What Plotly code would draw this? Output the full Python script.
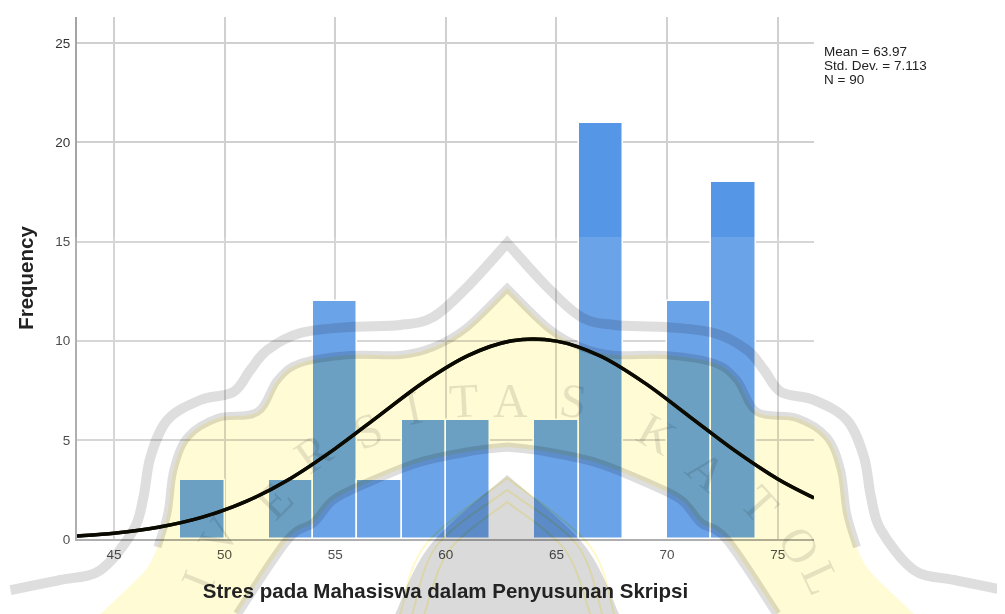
import plotly.graph_objects as go

# ---- chart data ----
bin_centers = [49, 51, 53, 55, 57, 59, 61, 63, 65, 67, 69, 71, 73]
frequency = [3, 0, 3, 12, 3, 6, 6, 0, 6, 21, 0, 12, 18]
curve_x = [43.33, 45, 47, 49, 51, 53, 55, 57, 59, 61, 63, 65, 67, 69, 71, 73, 75, 76.64]
curve_y = [0.15, 0.29, 0.59, 1.10, 1.91, 3.07, 4.56, 6.24, 7.91, 9.25, 10.0, 9.98, 9.22, 7.86, 6.19, 4.51, 3.03, 2.07]
x_ticks = [45, 50, 55, 60, 65, 70, 75]
y_ticks = [0, 5, 10, 15, 20, 25]
stats_lines = ["Mean = 63.97", "Std. Dev. = 7.113", "N = 90"]
x_title = "Stres pada Mahasiswa dalam Penyusunan Skripsi"
y_title = "Frequency"

# ---- plot frame in page pixels (the page body has an 8px margin) ----
W, H = 1005, 614
PAGE = 8
L, R, T, B = 76.5, 814, 17, 539

def px(x):
    return (x - L) / (R - L)

def py(y):
    return (B - y) / (B - T)

def smooth(pts):
    """Catmull-Rom segments through pts, as SVG cubic commands."""
    out = []
    for i in range(len(pts) - 1):
        p0 = pts[max(i - 1, 0)]
        p1, p2 = pts[i], pts[i + 1]
        p3 = pts[min(i + 2, len(pts) - 1)]
        c1 = (p1[0] + (p2[0] - p0[0]) / 6, p1[1] + (p2[1] - p0[1]) / 6)
        c2 = (p2[0] - (p3[0] - p1[0]) / 6, p2[1] - (p3[1] - p1[1]) / 6)
        out.append("C " + " ".join(f"{a:.4f},{b:.4f}" for a, b in (c1, c2, p2)))
    return " ".join(out)

def to_paper(pts):
    return [(px(a), py(b)) for a, b in pts]

def path(*segments, close=False):
    segs = [to_paper(s) for s in segments]
    s = f"M {segs[0][0][0]:.4f},{segs[0][0][1]:.4f} "
    for i, seg in enumerate(segs):
        if i:
            s += f" L {seg[0][0]:.4f},{seg[0][1]:.4f} "
        s += smooth(seg)
    return s + (" Z" if close else "")

def mirror(points, axis=507):
    return [(2 * axis - a, b) for a, b in reversed(points)]

# ---- background watermark (left half outlines, mirrored) ----
outer_band = [(10, 590), (60, 580), (100, 570), (133, 530), (143, 497), (150, 457), (167, 420), (200, 400),
              (233, 392), (250, 370), (267, 350), (300, 333), (350, 327), (400, 325), (433, 317), (467, 287), (507, 243)]
inner_band = [(157, 547), (167, 513), (173, 470), (187, 437), (217, 418), (257, 412), (277, 380), (300, 363),
              (350, 355), (400, 355), (433, 347), (467, 327), (507, 288)]
inner_arc = [(237, 614), (287, 540), (313, 523), (333, 500), (367, 483), (417, 463), (467, 452), (507, 447)]
lower_left = [(100, 614), (120, 595), (145, 570)]
blob = [(395, 614), (430, 545), (507, 475)]
chevrons = [[(400, 614), (425, 545), (507, 478)], [(412, 614), (437, 545), (507, 490)], [(424, 614), (449, 550), (507, 502)]]
letters = [("I", 197, 580, -68), ("V", 218, 535, -58), ("E", 273, 500, -45), ("R", 313, 453, -35), ("S", 367, 430, -22),
           ("I", 413, 407, -12), ("T", 463, 400, -3), ("A", 510, 400, 0), ("S", 573, 400, 8), ("K", 657, 433, 30),
           ("A", 707, 470, 40), ("T", 760, 503, 48), ("O", 800, 545, 60), ("L", 822, 578, 65)]

yellow_edge = lower_left + inner_band
base = dict(xref="paper", yref="paper", layer="above")
stroke = lambda w, c: dict(line=dict(width=w, color=c), fillcolor="rgba(0,0,0,0)")

shapes = [
    dict(type="rect", x0=px(0), x1=px(W), y0=py(H), y1=py(237), line=dict(width=0),
         fillcolor="rgba(255,255,255,0.13)", **base),
    dict(type="path", path=path(yellow_edge, mirror(yellow_edge), mirror(inner_arc)[::-1], inner_arc[::-1], close=True),
         line=dict(width=0), fillcolor="#FFFBD5", **base),
    dict(type="path", path=path(blob, mirror(blob), close=True), line=dict(width=0), fillcolor="#DADADA", **base),
    dict(type="path", path=path(outer_band, mirror(outer_band)), **stroke(10, "#DEDEDE"), **base),
    dict(type="path", path=path(inner_band, mirror(inner_band)), **stroke(8, "#DEDEDE"), **base),
    dict(type="path", path=path(inner_arc, mirror(inner_arc)), **stroke(9, "#DEDEDE"), **base),
]
for c in chevrons:
    shapes.append(dict(type="path", path=path(c, mirror(c)), **stroke(2, "#FFF9C8"), **base))

# the fitted curve again, on top of the watermark, through the axes' own scales
curve_pts = list(zip(curve_x, curve_y))
shapes.append(dict(type="path", xref="x", yref="y", layer="above",
                   path=f"M {curve_x[0]},{curve_y[0]} " + smooth(curve_pts),
                   line=dict(width=3.5, color="#0a0a00"), fillcolor="rgba(0,0,0,0)"))

annotations = [dict(text=t, x=px(a), y=py(b), xref="paper", yref="paper", textangle=r, showarrow=False,
                    xanchor="center", yanchor="middle",
                    font=dict(family="Liberation Serif", size=48, color="rgba(0,0,0,0.10)"))
               for t, a, b, r in letters]
for i, line in enumerate(stats_lines):
    annotations.append(dict(text=line, x=px(822), y=py(51 + 14 * i), xref="paper", yref="paper", xanchor="left",
                            yanchor="middle", align="left", showarrow=False,
                            font=dict(family="Liberation Sans", size=13.5, color="#222")))

fig = go.Figure()
fig.add_bar(x=bin_centers, y=frequency, width=2, marker=dict(color="#5596E6", line=dict(color="white", width=1.5)))
fig.add_scatter(x=curve_x, y=curve_y, mode="lines", line=dict(color="#0a0a00", width=3.5, shape="spline"), cliponaxis=False)

axis_font = dict(family="Liberation Sans", size=13.5, color="#333")
title_font = dict(family="Liberation Sans", size=20.5, color="#222")
fig.update_layout(
    width=W - PAGE, height=H - PAGE, showlegend=False, paper_bgcolor="white", plot_bgcolor="white",
    margin=dict(l=L - PAGE, r=W - R, t=T - PAGE, b=H - B, pad=0), bargap=0,
    shapes=shapes, annotations=annotations,
    xaxis=dict(range=[43.33, 76.64], tickvals=x_ticks, showgrid=True, gridcolor="#d0d0d0", gridwidth=1.5, zeroline=False,
               showline=True, linecolor="#a4a4a4", linewidth=2, ticks="outside", ticklen=2, tickcolor="rgba(0,0,0,0)",
               tickfont=axis_font, title=dict(text=f"<b>{x_title}</b>", font=title_font, standoff=22)),
    yaxis=dict(range=[0, 26.33], tickvals=y_ticks, showgrid=True, gridcolor="#d0d0d0", gridwidth=1.5, zeroline=False,
               showline=True, linecolor="#a4a4a4", linewidth=2, ticks="outside", ticklen=2, tickcolor="rgba(0,0,0,0)",
               tickfont=axis_font, title=dict(text=f"<b>{y_title}</b>", font=title_font, standoff=16)),
)

blend = """
var blendShapes = function () {
  document.querySelectorAll('.layer-above .shapelayer path').forEach(function (p, i) {
    if (i > 0) { p.style.mixBlendMode = 'multiply'; }
  });
};
blendShapes();
setTimeout(blendShapes, 50);
"""
fig.write_html("out.html", post_script=blend)
